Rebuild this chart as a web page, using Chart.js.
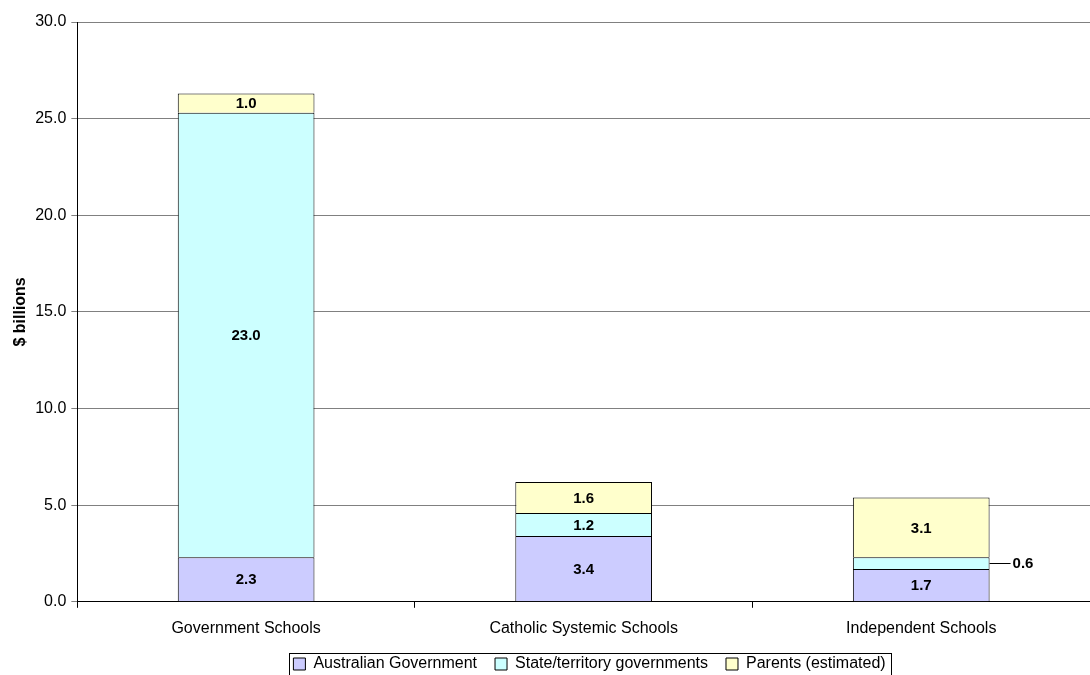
<!DOCTYPE html>
<html>
<head>
<meta charset="utf-8">
<script src="https://cdn.jsdelivr.net/npm/chart.js@4/dist/chart.umd.min.js"></script>
<style>
  html, body { margin: 0; padding: 0; background: #fff; }
  #wrap { width: 1090px; height: 675px; }
</style>
</head>
<body>
<div id="wrap"><canvas id="fundingChart"></canvas></div>
<script>
// school funding by source, $ billions
const schoolTypes = ['Government Schools', 'Catholic Systemic Schools', 'Independent Schools'];
const australianGovt = [2.3, 3.4, 1.7];
const stateGovts = [23.0, 1.2, 0.6];
const parents = [1.0, 1.6, 3.1];
const yTicks = [0, 5, 10, 15, 20, 25, 30];

const FONT = '"Liberation Sans", Arial, sans-serif';

// value labels inside each segment; tiny segments get a leader line out to the right
const segmentLabels = {
    id: 'segmentLabels',
    afterDatasetsDraw(chart) {
        const ctx = chart.ctx;
        ctx.save();
        ctx.font = 'bold 15px ' + FONT;
        ctx.fillStyle = '#000';
        ctx.textBaseline = 'middle';
        chart.data.datasets.forEach(function(ds, di) {
            chart.getDatasetMeta(di).data.forEach(function(bar, i) {
                const v = ds.data[i];
                const txt = v.toFixed(1);
                const h = Math.abs(bar.base - bar.y);
                const yMid = (bar.y + bar.base) / 2;
                if (h < 18) {
                    const xEdge = bar.x + bar.width / 2;
                    ctx.strokeStyle = '#000';
                    ctx.lineWidth = 1;
                    ctx.beginPath();
                    ctx.moveTo(xEdge, Math.round(yMid) + 0.5);
                    ctx.lineTo(xEdge + 21, Math.round(yMid) + 0.5);
                    ctx.stroke();
                    ctx.textAlign = 'left';
                    ctx.fillText(txt, xEdge + 23, yMid + 1);
                } else {
                    ctx.textAlign = 'center';
                    ctx.fillText(txt, bar.x, yMid + 1);
                }
            });
        });
        ctx.restore();
    }
};

// legend sits a little right of centre, with a thin frame round it
const legendFrame = {
    id: 'legendFrame',
    afterLayout(chart) {
        chart.legend.left += 39;
        chart.legend.right += 39;
    },
    afterDraw(chart) {
        const boxes = chart.legend.legendHitBoxes;
        if (!boxes || !boxes.length) return;
        const left = boxes[0].left - 4;
        const last = boxes[boxes.length - 1];
        const right = last.left + last.width + 6;
        const top = boxes[0].top - 3;
        const bottom = chart.height + 2;
        const ctx = chart.ctx;
        ctx.save();
        ctx.strokeStyle = '#000';
        ctx.lineWidth = 1;
        ctx.strokeRect(Math.round(left) + 0.5, Math.round(top) + 0.5, Math.round(right - left), Math.round(bottom - top));
        ctx.restore();
    }
};

const common = { borderColor: '#000', borderWidth: 1, categoryPercentage: 0.81, barPercentage: 0.5 };

new Chart(document.getElementById('fundingChart'), {
    type: 'bar',
    data: {
        labels: schoolTypes,
        datasets: [
            Object.assign({ label: 'Australian Government', data: australianGovt, backgroundColor: '#CCCCFF' }, common),
            Object.assign({ label: 'State/territory governments', data: stateGovts, backgroundColor: '#CCFFFF' }, common),
            Object.assign({ label: 'Parents (estimated)', data: parents, backgroundColor: '#FFFFCC' }, common)
        ]
    },
    options: {
        responsive: true,
        maintainAspectRatio: false,
        animation: false,
        layout: { padding: { top: 22, right: 0, left: 11, bottom: -7 } },
        plugins: {
            tooltip: { enabled: false },
            legend: {
                position: 'bottom',
                labels: {
                    font: { family: FONT, size: 16 },
                    color: '#000',
                    boxWidth: 12,
                    boxHeight: 12,
                    padding: 18
                }
            }
        },
        scales: {
            x: {
                stacked: true,
                grid: { drawOnChartArea: false, color: '#000', tickLength: 6 },
                border: { color: '#000' },
                ticks: { font: { family: FONT, size: 16 }, color: '#000', padding: 11 },
                afterFit(scale) { scale.height -= 11; }
            },
            y: {
                stacked: true,
                min: yTicks[0],
                max: yTicks[yTicks.length - 1],
                afterBuildTicks(axis) { axis.ticks = yTicks.map(v => ({ value: v })); },
                grid: { color: '#808080', tickLength: 6 },
                border: { color: '#000' },
                ticks: {
                    font: { family: FONT, size: 16 },
                    color: '#000',
                    padding: 5,
                    callback: v => v.toFixed(1)
                },
                title: {
                    display: true,
                    text: '$ billions',
                    font: { family: FONT, size: 16, weight: 'bold' },
                    color: '#000',
                    padding: { top: 0, bottom: 0 }
                }
            }
        }
    },
    plugins: [segmentLabels, legendFrame]
});
</script>
</body>
</html>
